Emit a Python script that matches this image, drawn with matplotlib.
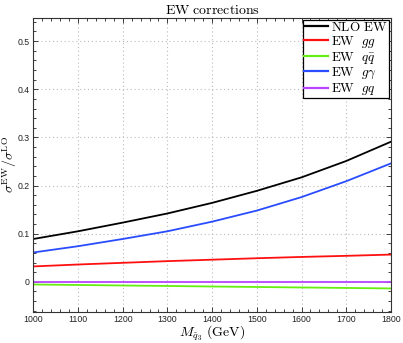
import matplotlib
matplotlib.use("Agg")
import matplotlib.pyplot as plt
from matplotlib.ticker import MultipleLocator, FuncFormatter

plt.rcParams['mathtext.fontset'] = 'cm'

mass = [1000, 1100, 1200, 1300, 1400, 1500, 1600, 1700, 1800]
nlo_ew = [0.089, 0.105, 0.123, 0.142, 0.164, 0.189, 0.217, 0.251, 0.291]
ew_gg = [0.032, 0.036, 0.0395, 0.043, 0.046, 0.049, 0.0517, 0.054, 0.0566]
ew_qqbar = [-0.0055, -0.0065, -0.0076, -0.0086, -0.0097, -0.0107, -0.0117, -0.0127, -0.0137]
ew_ggamma = [0.061, 0.074, 0.089, 0.105, 0.125, 0.148, 0.176, 0.209, 0.246]
ew_gq = [0.0005, 0.0005, 0.0005, 0.0005, 0.0005, 0.0005, 0.0005, 0.0005, 0.0005]

labels = [r'$\mathrm{NLO\ EW}$', r'$\mathrm{EW}\ \ gg$', r'$\mathrm{EW}\ \ q\bar{q}$',
          r'$\mathrm{EW}\ \ g\gamma$', r'$\mathrm{EW}\ \ gq$']
colors = ['#000000', '#ff1010', '#66ee11', '#2a4cff', '#b844ff']
series = [nlo_ew, ew_gg, ew_qqbar, ew_ggamma, ew_gq]

fig = plt.figure(figsize=(4.03, 3.43), dpi=100)
ax = fig.add_axes([0.0826, 0.0913, 0.970 - 0.0826, 0.9475 - 0.0913])

for s, c, l in zip(series, colors, labels):
    ax.plot(mass, s, color=c, lw=1.3, label=l)

ax.set_xlim(1000, 1800)
ax.set_ylim(-0.062, 0.548)
ax.xaxis.set_major_locator(MultipleLocator(100))
ax.xaxis.set_minor_locator(MultipleLocator(20))
ax.yaxis.set_major_locator(MultipleLocator(0.1))
ax.yaxis.set_minor_locator(MultipleLocator(0.02))

def yfmt(v, pos):
    if abs(v) < 1e-9:
        return '0'
    return ('%.1f' % v)
ax.yaxis.set_major_formatter(FuncFormatter(yfmt))

ax.tick_params(which='both', direction='in', top=True, right=True,
               labelsize=6.3, width=0.6, colors='#222222', pad=2.5)
ax.tick_params(which='major', length=3.5)
ax.tick_params(which='minor', length=2)
for lab in ax.get_xticklabels() + ax.get_yticklabels():
    lab.set_family('Liberation Sans')

ax.grid(True, which='major', linestyle=(0, (1, 2.5)), color='#bbbbbb', lw=0.8)
for sp in ax.spines.values():
    sp.set_linewidth(0.8)
    sp.set_color('#333333')

ax.set_title(r'$\mathrm{EW\ corrections}$', fontsize=10, pad=3)
ax.set_xlabel(r'$M_{\tilde{q}_3}\ (\mathrm{GeV})$', fontsize=10)
ax.xaxis.set_label_coords(0.5, -0.042)
ax.set_ylabel(r'$\sigma^{\mathrm{EW}}/\sigma^{\mathrm{LO}}$', fontsize=10)
ax.yaxis.set_label_coords(-0.041, 0.5)

leg = ax.legend(loc='upper right', fontsize=9.5, frameon=True, fancybox=False,
                edgecolor='black', framealpha=1, borderpad=0.1, labelspacing=0.0,
                handlelength=1.75, handletextpad=0.3, borderaxespad=0.12)
leg.get_frame().set_linewidth(0.9)
for h in leg.get_lines():
    h.set_linewidth(1.6)

fig.savefig('out.png', dpi=100)
